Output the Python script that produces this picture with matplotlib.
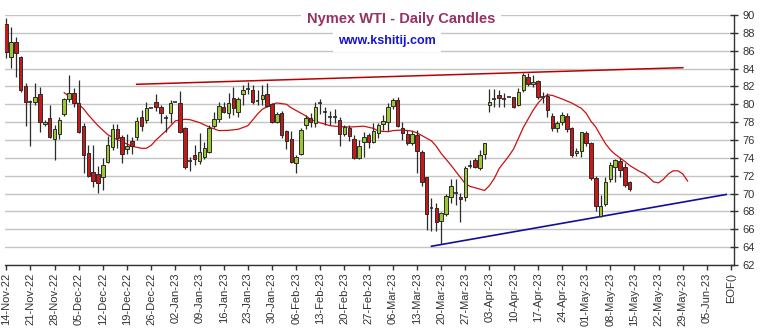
import numpy as np
import pandas as pd
import matplotlib
matplotlib.use("Agg")
import matplotlib.pyplot as plt

plt.rcParams["font.family"] = ["Liberation Sans", "DejaVu Sans"]

# daily candles, one per weekday from 14-Nov-22
start = "2022-11-14"
dates = pd.bdate_range(start, periods=130)
opens = [88.96, 85.33, 86.94, 85.26, 82.05, 80.30, 80.30, 81.10, 77.76, 78.43,
         76.08, 76.67, 78.88, 80.56, 81.23, 80.10, 77.57, 74.51, 72.45, 72.20,
         71.90, 73.57, 75.18, 77.20, 76.30, 74.96, 75.90, 76.30, 78.62, 78.24,
         79.55, 80.30, 79.73, 78.50, 78.99, 80.30, 80.10, 77.30, 73.65, 74.32,
         73.65, 74.13, 74.69, 77.60, 78.35, 79.73, 78.99, 80.67, 79.17, 81.12,
         81.70, 81.60, 80.37, 80.60, 81.15, 80.00, 78.05, 79.06, 77.04, 76.08,
         73.39, 74.43, 77.68, 78.43, 77.87, 80.10, 79.17, 78.62, 78.54, 78.24,
         76.67, 77.38, 76.08, 74.02, 75.81, 76.56, 75.81, 76.75, 77.76, 78.05,
         79.84, 80.48, 77.31, 76.67, 75.63, 76.56, 74.62, 71.82, 68.35, 68.35,
         66.97, 67.68, 69.59, 70.03, 69.66, 69.66, 73.13, 73.76, 72.90, 74.40,
         79.92, 80.60, 81.04, 80.60, 80.78, 80.78, 79.92, 81.60, 83.10, 82.24,
         82.61, 80.85, 80.93, 78.69, 77.31, 77.98, 78.69, 77.31, 74.51, 74.80,
         76.82, 75.63, 71.71, 67.49, 68.84, 71.60, 72.94, 73.65, 73.01, 71.33]
highs = [89.63, 88.62, 87.57, 85.40, 82.35, 80.50, 82.35, 81.90, 78.20, 79.90,
         77.70, 78.60, 80.70, 83.30, 81.79, 82.70, 77.87, 75.44, 75.44, 73.10,
         73.95, 76.50, 77.79, 77.79, 76.56, 76.67, 76.30, 78.62, 79.36, 80.30,
         79.55, 81.15, 79.90, 78.80, 80.48, 80.30, 81.49, 77.40, 74.14, 75.44,
         76.82, 75.80, 77.68, 79.17, 80.30, 80.30, 81.23, 81.97, 80.85, 82.16,
         82.53, 82.16, 81.60, 82.16, 82.42, 80.10, 79.17, 79.30, 77.12, 77.04,
         74.32, 77.31, 78.80, 79.00, 80.30, 80.56, 79.73, 79.28, 79.44, 78.54,
         77.68, 77.68, 76.56, 76.00, 76.93, 76.75, 77.87, 77.94, 78.80, 80.10,
         80.74, 80.85, 78.05, 77.12, 77.04, 77.12, 74.88, 71.90, 69.47, 68.91,
         67.98, 69.96, 71.60, 71.60, 70.03, 73.09, 73.76, 73.95, 74.88, 75.70,
         81.68, 81.68, 81.60, 81.23, 80.78, 80.85, 81.79, 83.54, 83.47, 83.28,
         82.72, 81.41, 81.23, 78.99, 78.13, 79.17, 79.06, 77.40, 75.07, 76.93,
         77.00, 75.80, 72.00, 69.84, 71.90, 73.57, 73.87, 73.95, 73.46, 71.45]
lows = [85.20, 84.10, 83.10, 81.40, 77.60, 75.36, 79.90, 76.90, 77.60, 76.20,
        73.76, 76.10, 78.70, 80.30, 79.73, 76.80, 72.27, 71.90, 70.77, 70.10,
        70.40, 73.40, 74.88, 75.10, 73.43, 74.43, 74.43, 76.00, 77.05, 77.90,
        79.55, 79.30, 77.87, 76.93, 77.94, 80.30, 76.82, 72.72, 72.57, 73.20,
        73.30, 73.90, 74.50, 77.30, 78.05, 79.00, 78.43, 78.80, 78.54, 79.92,
        81.20, 80.00, 79.92, 79.90, 79.73, 77.94, 77.90, 76.20, 74.96, 73.43,
        72.34, 74.32, 77.20, 77.50, 77.49, 78.91, 77.68, 77.68, 77.87, 75.33,
        76.45, 75.92, 73.87, 73.87, 74.13, 75.07, 75.63, 76.19, 77.12, 77.00,
        79.50, 77.46, 76.00, 75.44, 75.44, 72.34, 70.85, 65.90, 65.85, 65.81,
        64.36, 67.50, 68.98, 68.72, 66.85, 69.20, 72.87, 72.83, 72.60, 73.84,
        79.10, 79.73, 79.70, 79.73, 80.78, 79.60, 79.80, 81.40, 82.10, 81.97,
        80.60, 80.10, 78.54, 77.01, 76.93, 77.68, 76.93, 74.13, 74.21, 74.13,
        75.30, 71.50, 68.05, 67.41, 68.65, 71.33, 71.33, 71.90, 70.77, 70.33]
closes = [85.90, 86.94, 85.71, 81.60, 80.22, 80.30, 80.85, 77.98, 78.05, 76.37,
          77.20, 78.24, 80.56, 81.23, 80.10, 76.93, 74.32, 72.00, 71.45, 71.15,
          73.20, 75.40, 77.20, 76.19, 74.40, 75.33, 75.33, 78.16, 77.57, 79.55,
          79.55, 79.66, 78.99, 78.50, 80.18, 80.30, 76.93, 72.94, 73.65, 73.84,
          74.62, 75.07, 77.30, 78.32, 79.80, 79.10, 80.10, 79.55, 80.56, 81.60,
          81.70, 80.22, 80.37, 81.04, 79.84, 77.98, 78.91, 76.56, 75.92, 73.50,
          74.06, 77.12, 78.43, 78.05, 79.66, 80.10, 79.17, 78.62, 78.54, 76.67,
          77.43, 76.45, 74.02, 75.37, 76.30, 75.74, 77.00, 77.65, 78.13, 79.66,
          80.48, 77.60, 76.75, 75.70, 76.67, 74.80, 71.33, 67.68, 68.35, 66.79,
          67.79, 69.73, 70.85, 70.03, 69.36, 72.83, 73.13, 73.01, 74.32, 75.63,
          80.29, 80.60, 80.67, 80.60, 80.78, 79.73, 81.41, 83.28, 82.24, 82.46,
          80.85, 80.85, 79.36, 77.38, 77.87, 78.80, 77.20, 74.32, 74.80, 76.86,
          75.70, 71.71, 68.65, 68.61, 71.33, 73.20, 73.76, 72.64, 70.96, 70.48]

# moving average line (runs past the last candle)
ma_dates = ["2022-11-30", "2022-12-01", "2022-12-05", "2022-12-06", "2022-12-07",
            "2022-12-09", "2022-12-13", "2022-12-14", "2022-12-16", "2022-12-20",
            "2022-12-22", "2022-12-23", "2022-12-26", "2022-12-27", "2022-12-29",
            "2023-01-02", "2023-01-04", "2023-01-05", "2023-01-09", "2023-01-11",
            "2023-01-13", "2023-01-17", "2023-01-19", "2023-01-23", "2023-01-25",
            "2023-01-26", "2023-01-30", "2023-01-31", "2023-02-02", "2023-02-03",
            "2023-02-06", "2023-02-08", "2023-02-09", "2023-02-13", "2023-02-15",
            "2023-02-17", "2023-02-21", "2023-02-24", "2023-02-28", "2023-03-01",
            "2023-03-03", "2023-03-06", "2023-03-08", "2023-03-10", "2023-03-13",
            "2023-03-14", "2023-03-16", "2023-03-17", "2023-03-20", "2023-03-22",
            "2023-03-23", "2023-03-24", "2023-03-27", "2023-03-28", "2023-03-30",
            "2023-03-31", "2023-04-03", "2023-04-04", "2023-04-05", "2023-04-07",
            "2023-04-10", "2023-04-11", "2023-04-12", "2023-04-14", "2023-04-17",
            "2023-04-18", "2023-04-19", "2023-04-20", "2023-04-24", "2023-04-26",
            "2023-04-28", "2023-05-01", "2023-05-02", "2023-05-03", "2023-05-04",
            "2023-05-05", "2023-05-08", "2023-05-09", "2023-05-10", "2023-05-11",
            "2023-05-12", "2023-05-16", "2023-05-17", "2023-05-18", "2023-05-19",
            "2023-05-22", "2023-05-23", "2023-05-24", "2023-05-25", "2023-05-26",
            "2023-05-29", "2023-05-30"]
ma_values = [81.3, 80.9, 80.0, 79.5, 78.8, 77.6, 76.6, 76.3, 75.8, 75.3,
             75.07, 75.07, 75.4, 76.0, 77.0, 78.15, 78.32, 78.28, 77.95, 77.45,
             77.05, 77.08, 77.2, 77.6, 78.9, 79.45, 80.0, 80.15, 80.0, 79.6,
             79.3, 78.7, 78.3, 77.92, 77.6, 77.5, 77.45, 77.55, 77.3, 77.0,
             76.93, 77.05, 77.12, 77.0, 76.8, 76.5, 75.9, 75.3, 74.5, 73.2,
             72.5, 71.8, 71.1, 70.8, 70.5, 70.35, 70.9, 71.7, 72.8, 74.2,
             75.0, 76.2, 77.4, 79.3, 80.1, 80.7, 81.05, 81.0, 80.6, 80.15,
             79.55, 79.0, 78.1, 77.45, 76.5, 75.6, 74.9, 74.4, 74.0, 73.6,
             73.15, 72.5, 72.25, 71.8, 71.3, 71.2, 71.6, 72.2, 72.55, 72.55,
             72.2, 71.4]

# trend lines
upper_dates = ["2022-12-21", "2023-05-29"]
upper_values = [82.24, 84.1]
lower_dates = ["2023-03-16", "2023-06-09"]
lower_values = [64.1, 69.9]

tick_dates = pd.date_range(start, "2023-06-05", freq="W-MON")
tick_labels = [d.strftime("%d-%b-%y") for d in tick_dates] + ["EOF()"]


def pos(d):
    return np.busday_count(np.datetime64(start), np.array(d, dtype="datetime64[D]"))


fig = plt.figure(figsize=(7.62, 3.32), dpi=100)
ax = fig.add_axes([5 / 762, 67 / 332, 729 / 762, 250 / 332])

x = pos(dates.values.astype("datetime64[D]"))
o, h, l, c = map(np.array, (opens, highs, lows, closes))
up = c >= o
doji = np.abs(c - o) < 0.06

ax.vlines(x, l, h, color="#2b2b2b", lw=0.9, zorder=3)
body = ~doji
ax.bar(x[body], np.abs(c - o)[body], bottom=np.minimum(o, c)[body], width=0.72,
       color=np.where(up[body], "#9BC832", "#C91818"), edgecolor="#2b2b2b",
       linewidth=0.7, zorder=4)
ax.hlines(o[doji], x[doji] - 0.4, x[doji] + 0.4, color="#2b2b2b", lw=1.2, zorder=4)

ax.plot(pos(ma_dates), ma_values, color="#CC1010", lw=0.9, zorder=2)
ax.plot(pos(upper_dates), upper_values, color="#BB0000", lw=1.1, zorder=2)
ax.plot(pos(lower_dates), lower_values, color="#10109A", lw=1.2, zorder=2)

ax.set_xlim(-0.25, 150.6)
ax.set_ylim(62, 90)
ax.set_yticks(np.arange(62, 91, 2))
ax.yaxis.tick_right()
ax.grid(axis="y", color="#c4c4c4", lw=1)
ax.set_axisbelow(True)

xt = list(pos(tick_dates.values.astype("datetime64[D]"))) + [150]
ax.set_xticks(xt)
ax.set_xticklabels(tick_labels, rotation=90, fontsize=8, color="#333333")
ax.tick_params(axis="x", direction="out", length=3.5, width=1, color="#333333", pad=2)
ax.tick_params(axis="y", direction="inout", length=6, width=1, color="#333333",
               labelsize=8, labelcolor="#333333", pad=3)

for s in ("left", "top"):
    ax.spines[s].set_visible(False)
for s in ("bottom", "right"):
    ax.spines[s].set_color("#333333")
    ax.spines[s].set_linewidth(1)

fig.text(401 / 762, 1 - 19 / 332, "Nymex WTI - Daily Candles", ha="center", va="center",
         fontsize=10.5, fontweight="bold", color="#953163",
         bbox=dict(facecolor="white", edgecolor="none", pad=4))
fig.text(387 / 762, 1 - 41 / 332, "www.kshitij.com", ha="center", va="center",
         fontsize=9, fontweight="bold", color="#1414D2",
         bbox=dict(facecolor="white", edgecolor="none", pad=3.5))

fig.savefig("out.png", dpi=100)
